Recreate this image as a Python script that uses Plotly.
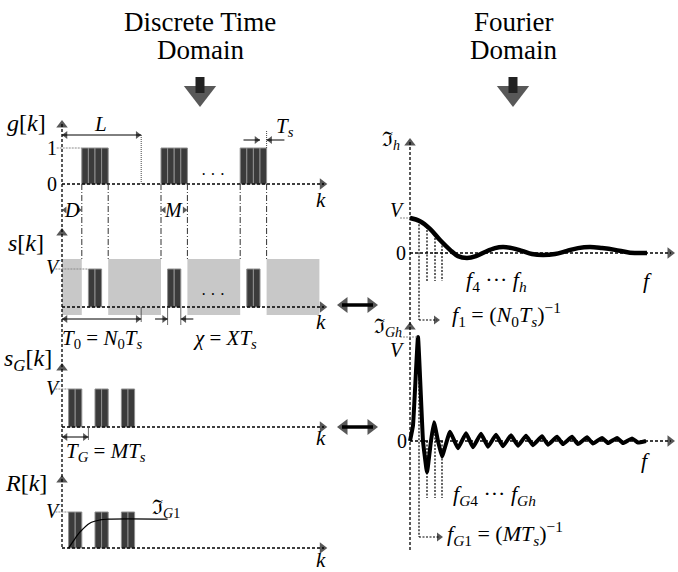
import numpy as np
import plotly.graph_objects as go

W, H = 678, 572

# ---------------- data (logical units) ----------------
# time index k in samples (T_s = 1)
k_axis_end = 40.2
L_len = 12          # period L
D_len = 3           # delay D
M_len = 4           # pulse width M
X_len = 2           # chi = X T_s
g_starts = [3, 15, 27]
g_level = 1.0
s_starts = [4, 16, 28]
V_level = 1.0
gray_starts = [0, 7, 19, 31]
gray_ends = [3, 15, 27, 39]
gray_top = 1.26
gray_bottom = -0.21
sG_starts = [1, 5, 9]
TG_len = 4
R_starts = [1, 5, 9]
R_env_k = [1, 2.0, 2.7, 4.2, 5.8, 7, 16]
R_env_v = [0, 0.27, 0.44, 0.69, 0.78, 0.8, 0.8]

# frequency axis (arbitrary units)
f_axis_end = 26.5
Fh_f = [0, 1, 2, 3, 4, 4.8, 5.7, 6.6, 7.5, 8.5, 9.3, 10.2, 11.2, 12.2, 13.3,
        14.5, 15.7, 16.8, 18.0, 19.2, 20.5, 22.0, 23.7]
Fh_v = [1.0, 0.91, 0.69, 0.37, 0.09, -0.09, -0.14, -0.09, 0.03, 0.14, 0.17, 0.14,
        0.06, -0.03, -0.06, -0.03, 0.06, 0.14, 0.17, 0.14, 0.09, 0.01, 0.0]
FGh_f = [0, 0.3, 0.8, 1.3, 1.7, 2.1, 2.4, 2.8, 3.2, 4.0, 4.8, 5.6, 6.3, 7.1, 7.8,
         8.6, 9.3, 10.1, 10.8, 11.6, 12.3, 13.2, 13.8, 14.7, 15.3, 16.2, 16.8,
         17.7, 18.3, 19.2, 19.8, 20.7, 21.3, 22.2, 22.8, 23.6]
FGh_v = [0, 0.15, 1.0, 0, -0.30, 0, 0.18, 0, -0.15, 0.09, -0.07, 0.075, -0.06,
         0.07, -0.055, 0.06, -0.05, 0.055, -0.045, 0.05, -0.04, 0.045, -0.035,
         0.04, -0.03, 0.04, -0.03, 0.035, -0.025, 0.03, -0.02, 0.03, -0.02,
         0.025, -0.015, 0]
harm_f = [0.9, 1.7, 2.5, 3.2]
f1_arrow_end = 3.0
fG1_arrow_end = 3.3

# ---------------- layout constants (pixels) ----------------
K0_PX, K_PX = 62, 6.6
F0_PX, F_PX = 410, 10
PANELS = {  # baseline px, px per unit, axis top px, yaxis id
    'g': (184, 36, 120, 'y2'),
    's': (307, 38, 228, 'y3'),
    'sG': (427, 38, 363, 'y4'),
    'R': (548, 36, 475, 'y5'),
    'Fh': (253, 35, 138, 'y6'),
    'FGh': (441, 104, 322, 'y7'),
}
FONT = "Liberation Serif, Times New Roman, DejaVu Serif, serif"
SCALE = {'x': 1.0, 'x2': K_PX, 'x3': F_PX}


def py(p, v):
    b, s, _, _ = PANELS[p]
    return b - v * s


fig = go.Figure()

DARK = '#3b3b3b'
SEP = '#8e8e8e'


def pulse_bars(starts, width, level, yaxis):
    xs, ys = [], []
    for st in starts:
        for i in range(width):
            xs.append(st + i + 0.5)
            ys.append(level)
    fig.add_trace(go.Bar(x=xs, y=ys, width=1, xaxis='x2', yaxis=yaxis,
                         marker=dict(color=DARK, line=dict(color=SEP, width=1)),
                         showlegend=False, hoverinfo='skip'))


# g[k]
pulse_bars(g_starts, M_len, g_level, 'y2')
# s[k] gray blocks
fig.add_trace(go.Bar(
    x=[(a + b) / 2 for a, b in zip(gray_starts, gray_ends)],
    y=[gray_top - gray_bottom] * len(gray_starts),
    base=[gray_bottom] * len(gray_starts),
    width=[b - a for a, b in zip(gray_starts, gray_ends)],
    xaxis='x2', yaxis='y3', marker=dict(color='rgb(200,200,200)', line=dict(width=0)),
    showlegend=False, hoverinfo='skip'))
pulse_bars(s_starts, X_len, V_level, 'y3')
# s_G[k]
pulse_bars(sG_starts, X_len, V_level, 'y4')
# R[k]
pulse_bars(R_starts, X_len, V_level, 'y5')
fig.add_trace(go.Scatter(x=R_env_k, y=R_env_v, xaxis='x2', yaxis='y5', mode='lines',
                         line=dict(color='black', width=1.2, shape='spline'),
                         showlegend=False, hoverinfo='skip'))
# Fourier curves
fig.add_trace(go.Scatter(x=Fh_f, y=Fh_v, xaxis='x3', yaxis='y6', mode='lines',
                         line=dict(color='black', width=4.5, shape='spline', smoothing=1.0),
                         showlegend=False, hoverinfo='skip'))
fig.add_trace(go.Scatter(x=FGh_f, y=FGh_v, xaxis='x3', yaxis='y7', mode='lines',
                         line=dict(color='black', width=4, shape='spline', smoothing=0.3),
                         showlegend=False, hoverinfo='skip'))

shapes = []
ann = []
heads = {'x': [], 'x2': [], 'x3': []}
DOT = '3px,2px'


def vline(xref, x, y0, y1, dash=DOT, color='black', width=1.3):
    shapes.append(dict(type='line', xref=xref, yref='y', x0=x, x1=x, y0=y0, y1=y1,
                       line=dict(color=color, width=width, dash=dash), layer='above'))


def hline(xref, x0, x1, y, dash=DOT, color='black', width=1.3):
    shapes.append(dict(type='line', xref=xref, yref='y', x0=x0, x1=x1, y0=y, y1=y,
                       line=dict(color=color, width=width, dash=dash), layer='above'))


def head(xref, x, y, direction, size=9):
    """triangle arrow head whose tip is at (x, y); y in pixels"""
    r = size / 2.0
    sc = SCALE[xref]
    if direction == 'right':
        heads[xref].append((x - r / sc, y, 'triangle-right', size))
    elif direction == 'left':
        heads[xref].append((x + r / sc, y, 'triangle-left', size))
    elif direction == 'up':
        heads[xref].append((x, y + r, 'triangle-up', size))
    else:
        heads[xref].append((x, y - r, 'triangle-down', size))


def dim(xref, x0, x1, y, size=7, shaft=True, width=1.0):
    if shaft:
        hline(xref, x0, x1, y, dash='solid', width=width)
    head(xref, x0, y, 'left', size)
    head(xref, x1, y, 'right', size)


def text(t, x, y, size=19, xanchor='center'):
    ann.append(dict(xref='x', yref='y', x=x, y=y, text=t, showarrow=False,
                    font=dict(family=FONT, size=size, color='black'), xanchor=xanchor,
                    yanchor='middle'))


# ---- left axes ----
vline('x2', 0, PANELS['g'][2] + 4, PANELS['R'][0])
for p in ['g', 's', 'sG', 'R']:
    b, s, top, _ = PANELS[p]
    hline('x2', 0, k_axis_end - 0.5, b)
    head('x2', 0, top, 'up', 10)
    head('x2', k_axis_end, b, 'right', 10)
# level lines
LEV = '#8a8a8a'
hline('x2', -0.8, g_starts[0], py('g', g_level), dash='2px,1px', color=LEV, width=1)
hline('x2', -1.0, s_starts[0], py('s', V_level), dash='2px,1px', color=LEV, width=1)
hline('x2', -1.0, sG_starts[0], py('sG', V_level), dash='2px,1px', color=LEV, width=1)
hline('x2', -1.0, R_starts[0], py('R', V_level), dash='2px,1px', color=LEV, width=1)
# dash-dot connectors from g edges to s
for st in g_starts:
    for e in (st, st + M_len):
        vline('x2', e, py('g', 0), py('s', gray_top), dash='6px,2px,1px,2px', color='#333', width=1)
# extension lines
vline('x2', L_len, 135, py('g', 0), dash='1px,1px', color='#444', width=1)
vline('x2', g_starts[-1] + M_len, 131, py('g', g_level), dash='1px,1px', color='#444', width=1)
vline('x2', L_len, py('s', 0), 322, dash='solid', color='#444', width=0.8)
vline('x2', s_starts[1], py('s', 0), 325, dash='solid', color='#444', width=0.8)
vline('x2', s_starts[1] + X_len, py('s', 0), 325, dash='solid', color='#444', width=0.8)
vline('x2', TG_len, py('sG', 0), 440, dash='solid', color='#444', width=0.8)

# dimension arrows
dim('x2', 0, L_len, 135)
dim('x2', 0, D_len, 210, size=6, shaft=False)
dim('x2', g_starts[1], g_starts[1] + M_len, 210, size=6, shaft=False)
dim('x2', 0, L_len, 319)
dim('x2', 0, TG_len, 437)
# T_s markers (arrows pointing inwards)
ts_a, ts_b = g_starts[-1] + M_len - 1, g_starts[-1] + M_len
hline('x2', ts_a - 2.5, ts_a, 140, dash='solid', width=1)
head('x2', ts_a, 140, 'right', 7)
hline('x2', ts_b, ts_b + 2.7, 140, dash='solid', width=1)
head('x2', ts_b, 140, 'left', 7)
# chi markers
ch_a, ch_b = s_starts[1], s_starts[1] + X_len
hline('x2', ch_a - 1.9, ch_a, 319, dash='solid', width=1)
head('x2', ch_a, 319, 'right', 7)
hline('x2', ch_b, ch_b + 1.9, 319, dash='solid', width=1)
head('x2', ch_b, 319, 'left', 7)

# ---- right axes ----
vline('x3', 0, PANELS['Fh'][2] + 4, 550)
for p in ['Fh', 'FGh']:
    b, s, top, _ = PANELS[p]
    hline('x3', 0, f_axis_end - 0.4, b)
    head('x3', 0, top, 'up', 10)
    head('x3', f_axis_end, b, 'right', 10)
hline('x3', -1.0, 0, py('Fh', V_level), dash='2px,1px', color=LEV, width=1)
hline('x3', -1.0, FGh_f[int(np.argmax(FGh_v))], py('FGh', V_level), dash='2px,1px', color=LEV, width=1)
# harmonic lines
for i, f in enumerate(harm_f):
    vh = float(np.interp(f, Fh_f, Fh_v))
    vline('x3', f, py('Fh', vh), 320 if i == 0 else 281, dash='2px,1.5px', width=1.2)
    vg = max(float(np.interp(f, FGh_f, FGh_v)), 0.0)
    vline('x3', f, py('FGh', vg), 537 if i == 0 else 498, dash='2px,1.5px', width=1.2)
hline('x3', harm_f[0], f1_arrow_end - 0.3, 320, dash='2px,1.5px', width=1.2)
head('x3', f1_arrow_end, 320, 'right', 8)
hline('x3', harm_f[0], fG1_arrow_end - 0.3, 537, dash='2px,1.5px', width=1.2)
head('x3', fG1_arrow_end, 537, 'right', 8)

# big arrows between domains
for yy in (305, 427):
    hline('x', 342, 373, yy, dash='solid', width=3.5)
    head('x', 337, yy, 'left', 14)
    head('x', 378, yy, 'right', 14)
# big down arrows under titles
for xx in (200, 513):
    vline('x', xx, 77, 93, dash='solid', color='#222', width=9)
    head('x', xx, 107, 'down', 28)

for xref, lst in heads.items():
    if not lst:
        continue
    fig.add_trace(go.Scatter(
        x=[h[0] for h in lst], y=[h[1] for h in lst], xaxis=xref, yaxis='y', mode='markers',
        marker=dict(symbol=[h[2] for h in lst], size=[h[3] for h in lst], color='#111',
                    line=dict(width=0)),
        showlegend=False, hoverinfo='skip'))

# ---- texts ----
text('Discrete Time', 200, 22, 27)
text('Domain', 200, 50, 27)
text('Fourier', 513, 22, 27)
text('Domain', 513, 50, 27)

text('<i>g</i>[<i>k</i>]', 26, 123, 24)
text('<i>s</i>[<i>k</i>]', 26, 243, 24)
text('<i>s</i><sub><i>G</i></sub>[<i>k</i>]', 28, 360, 24)
text('<i>R</i>[<i>k</i>]', 26, 483, 24)
text('1', 52, 148, 20)
text('0', 52, 184, 20)
text('<i>V</i>', 53, 267, 20)
text('<i>V</i>', 53, 388, 20)
text('<i>V</i>', 53, 511, 20)
text('<i>L</i>', 100, 124, 21)
text('<i>T</i><sub><i>s</i></sub>', 285, 127, 21)
text('· · ·', 213, 174, 16)
text('· · ·', 213, 294, 16)
for ky in (200, 322, 438, 560):
    text('<i>k</i>', 321, ky, 21)
text('<i>D</i>', 72, 210, 20)
text('<i>M</i>', 173, 210, 20)
text('<i>T</i><sub>0</sub> = <i>N</i><sub>0</sub><i>T</i><sub><i>s</i></sub>', 102, 339, 21)
text('<i>χ</i> = <i>XT</i><sub><i>s</i></sub>', 225, 339, 21)
text('<i>T</i><sub><i>G</i></sub> = <i>MT</i><sub><i>s</i></sub>', 106, 452, 21)
text('ℑ<sub><i>G</i>1</sub>', 166, 508, 20)

text('ℑ<sub><i>h</i></sub>', 391, 140, 20)
text('<i>V</i>', 397, 210, 20)
text('0', 401, 253, 20)
text('<i>f</i><sub>4</sub> ··· <i>f</i><sub><i>h</i></sub>', 496, 281, 22)
text('<i>f</i>', 647, 280, 22)
text('<i>f</i><sub>1</sub> = (<i>N</i><sub>0</sub><i>T</i><sub><i>s</i></sub>)<sup>−1</sup>', 506, 314, 22)
text('ℑ<sub><i>Gh</i></sub>', 388, 327, 20)
text('<i>V</i>', 397, 350, 20)
text('0', 402, 441, 20)
text('<i>f</i>', 645, 460, 22)
text('<i>f</i><sub><i>G</i>4</sub> ··· <i>f</i><sub><i>Gh</i></sub>', 494, 495, 22)
text('<i>f</i><sub><i>G</i>1</sub> = (<i>MT</i><sub><i>s</i></sub>)<sup>−1</sup>', 505, 533, 22)

# ---- axes ----
ax_common = dict(visible=False, fixedrange=True)
layout_axes = dict(
    xaxis=dict(range=[0, W], **ax_common),
    yaxis=dict(range=[H, 0], **ax_common),
    xaxis2=dict(range=[(0 - K0_PX) / K_PX, (W - K0_PX) / K_PX], overlaying='x', **ax_common),
    xaxis3=dict(range=[(0 - F0_PX) / F_PX, (W - F0_PX) / F_PX], overlaying='x', **ax_common),
)
for p, (b, s, top, yid) in PANELS.items():
    n = yid[1:]
    layout_axes['yaxis' + n] = dict(range=[(b - H) / s, b / s], overlaying='y', **ax_common)

fig.update_layout(width=W, height=H, margin=dict(l=0, r=0, t=0, b=0), autosize=False,
                  paper_bgcolor='white', plot_bgcolor='white', barmode='overlay',
                  showlegend=False, shapes=shapes, annotations=ann, **layout_axes)
fig.write_html("out.html", config={'displayModeBar': False},
               post_script="document.body.style.margin='0';document.body.style.overflow='hidden';")
